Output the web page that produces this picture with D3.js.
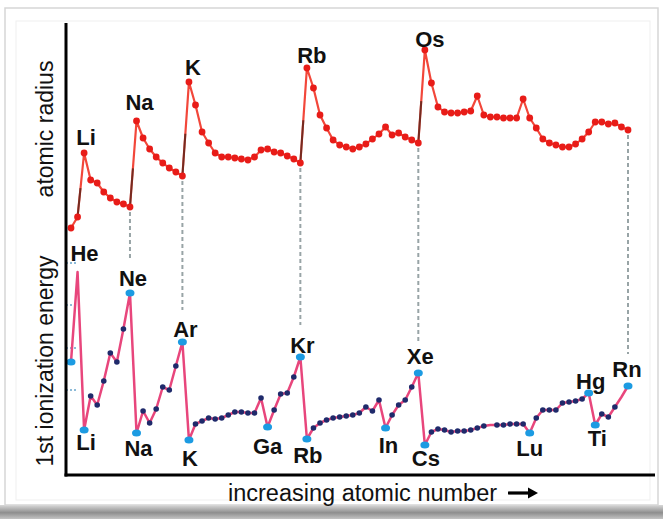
<!DOCTYPE html>
<html>
<head>
<meta charset="utf-8">
<script src="https://cdn.jsdelivr.net/npm/d3@7"></script>
<style>
  html, body { margin: 0; padding: 0; background: #fff; }
  svg { display: block; font-family: "Liberation Sans", Arial, Helvetica, sans-serif; }
</style>
</head>
<body>
<div id="chart"></div>
<script>
// Elements 1..86 along the x axis
const symbols = ['H','He','Li','Be','B','C','N','O','F','Ne',
  'Na','Mg','Al','Si','P','S','Cl','Ar',
  'K','Ca','Sc','Ti','V','Cr','Mn','Fe','Co','Ni','Cu','Zn','Ga','Ge','As','Se','Br','Kr',
  'Rb','Sr','Y','Zr','Nb','Mo','Tc','Ru','Rh','Pd','Ag','Cd','In','Sn','Sb','Te','I','Xe',
  'Cs','Ba','La','Ce','Pr','Nd','Pm','Sm','Eu','Gd','Tb','Dy','Ho','Er','Tm','Yb',
  'Lu','Hf','Ta','W','Re','Os','Ir','Pt','Au','Hg','Tl','Pb','Bi','Po','At','Rn'];

// Atomic radius, relative units
const radius = [12,23,87,60,57,48,42,38,36,33,
  119,102,91,83,77,72,68,64,
  158,135,108,97,87,83,83,82,81,80,83,90,91,88,87,84,81,77,
  172,152,125,112,100,95,93,91,93,96,101,106,113,105,107,103,100,97,
  190,157,133,128,127,127,128,129,144,125,123,123,122,122,122,141,
  122,112,101,97,95,93,93,96,101,108,118,118,116,117,113,110];

// 1st ionization energy, relative units
const ionization = [113,203,45,79,70,94,122,113,146,182,
  42,64,52,66,88,85,109,133,
  35,51,54,57,56,57,60,63,63,62,62,77,48,65,81,82,98,118,
  36,47,52,55,57,58,59,60,62,68,64,75,47,60,70,75,88,102,
  30,43,46,45,43,44,44,45,47,49,50,50,50,51,51,51,
  42,57,65,65,65,72,73,74,76,82,50,61,58,68,78,89];

// Labelled points (text as printed on the chart)
const radiusLabels = [['Li','Li'],['Na','Na'],['K','K'],['Rb','Rb'],['Cs','Os']];
const ieLabelsAbove = [['He','He'],['Ne','Ne'],['Ar','Ar'],['Kr','Kr'],['Xe','Xe'],['Hg','Hg'],['Rn','Rn']];
const ieLabelsBelow = [['Li','Li'],['Na','Na'],['K','K'],['Ga','Ga'],['Rb','Rb'],['In','In'],['Cs','Cs'],['Lu','Lu'],['Tl','Ti']];
const ieHighlighted = ['H','Li','Ne','Na','Ar','K','Ga','Kr','Rb','In','Xe','Cs','Lu','Hg','Tl','Rn'];
const ieUnmarked = ['He','Tb','At'];
const guideLinks = ['Ne','Ar','Kr','Xe','Rn'];
const radiusJumps = ['He','Ne','Ar','Kr','Xe'];
const ieGuideTicks = [85, 127, 170, 212];

const width = 663;
const height = 519;

const zOf = s => symbols.indexOf(s) + 1;
const data = symbols.map((s, i) => ({ s, z: i + 1, r: radius[i], ie: ionization[i] }));

const x = d3.scaleLinear().domain([1, 86]).range([71, 628]);
const yR = d3.scaleLinear().domain([0, 200]).range([240, 40]);
const yIE = d3.scaleLinear().domain([0, 220]).range([475, 255]);

const svg = d3.select('#chart').append('svg')
  .attr('width', width)
  .attr('height', height);

// card frame with a shadow along the bottom
const defs = svg.append('defs');
const grad = defs.append('linearGradient').attr('id', 'shadow')
  .attr('x1', 0).attr('y1', 0).attr('x2', 0).attr('y2', 1);
grad.append('stop').attr('offset', '0%').attr('stop-color', '#d8d8d8');
grad.append('stop').attr('offset', '55%').attr('stop-color', '#8e8e8e');
grad.append('stop').attr('offset', '100%').attr('stop-color', '#c4c4c4');

svg.append('rect').attr('x', 0).attr('y', 505).attr('width', width).attr('height', 14)
  .attr('fill', 'url(#shadow)');
svg.append('rect').attr('x', 5).attr('y', 8).attr('width', 653).attr('height', 497)
  .attr('fill', '#fff').attr('stroke', '#d6d6d6').attr('stroke-width', 1.5);
svg.append('rect').attr('x', 16).attr('y', 21).attr('width', 634).attr('height', 479)
  .attr('fill', 'none').attr('stroke', '#efefef').attr('stroke-width', 1);

// faint guide ticks on the left of the lower panel
svg.append('g').selectAll('line').data(ieGuideTicks).enter().append('line')
  .attr('x1', 66).attr('x2', 78)
  .attr('y1', d => yIE(d)).attr('y2', d => yIE(d))
  .attr('stroke', '#8dbbd8').attr('stroke-width', 2.2).attr('stroke-dasharray', '2,2');

// dashed links between the two curves
svg.append('g').selectAll('line').data(guideLinks.map(s => data[zOf(s) - 1])).enter().append('line')
  .attr('x1', d => x(d.z)).attr('x2', d => x(d.z))
  .attr('y1', d => yR(d.r) + 5)
  .attr('y2', d => yIE(d.ie) - 32)
  .attr('stroke', '#98a4a6').attr('stroke-width', 2).attr('stroke-dasharray', '4,3');

// atomic radius curve
const lineR = d3.line().x(d => x(d.z)).y(d => yR(d.r));
svg.append('path').datum(data).attr('d', lineR)
  .attr('fill', 'none').attr('stroke', '#f2473a').attr('stroke-width', 2.2).attr('stroke-linejoin', 'round');

// darker strokes on the rising jumps
svg.append('g').selectAll('line').data(radiusJumps.map(s => [data[zOf(s) - 1], data[zOf(s)]])).enter().append('line')
  .attr('x1', d => x(d[0].z)).attr('y1', d => yR(d[0].r))
  .attr('x2', d => x(d[0].z) + (x(d[1].z) - x(d[0].z)) * 0.45)
  .attr('y2', d => yR(d[0].r) + (yR(d[1].r) - yR(d[0].r)) * 0.45)
  .attr('stroke', '#4a2218').attr('stroke-width', 2).attr('opacity', 0.75);

svg.append('g').selectAll('circle').data(data).enter().append('circle')
  .attr('cx', d => x(d.z)).attr('cy', d => yR(d.r)).attr('r', 3.4)
  .attr('fill', '#e81c18');

// ionization energy curve
const lineIE = d3.line().x(d => x(d.z)).y(d => yIE(d.ie));
svg.append('path').datum(data).attr('d', lineIE)
  .attr('fill', 'none').attr('stroke', '#e8467c').attr('stroke-width', 2.5).attr('stroke-linejoin', 'round');

svg.append('g').selectAll('circle')
  .data(data.filter(d => !ieHighlighted.includes(d.s) && !ieUnmarked.includes(d.s)))
  .enter().append('circle')
  .attr('cx', d => x(d.z)).attr('cy', d => yIE(d.ie)).attr('r', 2.8)
  .attr('fill', '#1f2a6b');

svg.append('g').selectAll('ellipse')
  .data(data.filter(d => ieHighlighted.includes(d.s)))
  .enter().append('ellipse')
  .attr('cx', d => x(d.z)).attr('cy', d => yIE(d.ie)).attr('rx', 4.5).attr('ry', 3.6)
  .attr('fill', '#1c9be2');

// labels
const labelNudge = {
  'r:Li': [2, -8], 'r:Na': [3, -11], 'r:K': [4, -7], 'r:Rb': [5, -5], 'r:Os': [5, -3],
  'a:He': [7, -11], 'a:Ne': [3, -7], 'a:Ar': [3, -5], 'a:Kr': [2, -4], 'a:Xe': [2, -9], 'a:Hg': [2, -4], 'a:Rn': [-1, -9],
  'b:Li': [2, 20], 'b:Na': [2, 23], 'b:K': [1, 26], 'b:Ga': [0, 27], 'b:Rb': [1, 24], 'b:In': [3, 25],
  'b:Cs': [1, 21], 'b:Lu': [0, 23], 'b:Ti': [2, 21],
};

const addLabels = (list, key, yFn) => {
  svg.append('g').selectAll('text').data(list).enter().append('text')
    .attr('x', d => x(zOf(d[0])) + labelNudge[key + ':' + d[1]][0])
    .attr('y', d => yFn(data[zOf(d[0]) - 1]) + labelNudge[key + ':' + d[1]][1])
    .attr('text-anchor', 'middle')
    .attr('font-size', 22).attr('font-weight', 'bold').attr('fill', '#111')
    .text(d => d[1]);
};
addLabels(radiusLabels, 'r', d => yR(d.r));
addLabels(ieLabelsAbove, 'a', d => yIE(d.ie));
addLabels(ieLabelsBelow, 'b', d => yIE(d.ie));

// axes
svg.append('line').attr('x1', 66).attr('x2', 66).attr('y1', 23).attr('y2', 476.5)
  .attr('stroke', '#000').attr('stroke-width', 3);
svg.append('line').attr('x1', 64.5).attr('x2', 655).attr('y1', 475).attr('y2', 475)
  .attr('stroke', '#000').attr('stroke-width', 3);

// axis titles
svg.append('text').attr('transform', 'translate(53,129) rotate(-90)')
  .attr('text-anchor', 'middle').attr('font-size', 23).attr('fill', '#111')
  .text('atomic radius');
svg.append('text').attr('transform', 'translate(53,361) rotate(-90)')
  .attr('text-anchor', 'middle').attr('font-size', 23).attr('fill', '#111')
  .text('1st ionization energy');
svg.append('text').attr('x', 228).attr('y', 501)
  .attr('font-size', 23.5).attr('fill', '#111')
  .text('increasing atomic number');

// arrow after the x title
svg.append('line').attr('x1', 508).attr('x2', 530).attr('y1', 493).attr('y2', 493)
  .attr('stroke', '#000').attr('stroke-width', 3.2);
svg.append('path').attr('d', 'M528,487.5 L538,493 L528,498.5 Z').attr('fill', '#000');
</script>
</body>
</html>
